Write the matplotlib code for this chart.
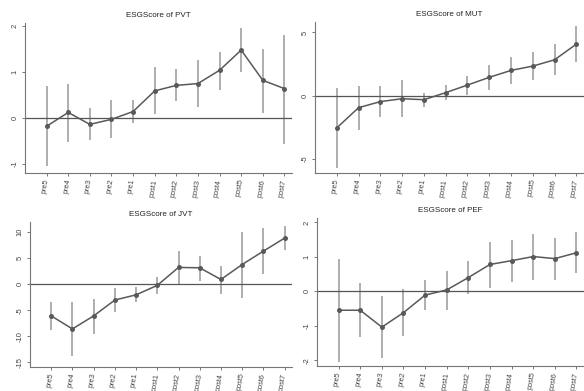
import numpy as np
import matplotlib
matplotlib.use("Agg")
import matplotlib.pyplot as plt

plt.rcParams["font.family"] = ["Liberation Sans", "DejaVu Sans"]

periods = ["pre5", "pre4", "pre3", "pre2", "pre1",
           "post1", "post2", "post3", "post4", "post5", "post6", "post7"]

pvt_coef = [-0.18, 0.12, -0.14, -0.03, 0.14, 0.59, 0.71, 0.75, 1.04, 1.48, 0.82, 0.64]
pvt_lo = [-1.04, -0.52, -0.49, -0.44, -0.12, 0.08, 0.36, 0.23, 0.62, 1.01, 0.10, -0.56]
pvt_hi = [0.70, 0.73, 0.22, 0.39, 0.39, 1.11, 1.06, 1.27, 1.44, 1.97, 1.51, 1.81]

mut_coef = [-2.55, -0.95, -0.47, -0.24, -0.32, 0.24, 0.84, 1.45, 2.00, 2.34, 2.84, 4.08]
mut_lo = [-5.74, -2.71, -1.71, -1.71, -0.87, -0.34, 0.05, 0.45, 0.89, 1.24, 1.61, 2.63]
mut_hi = [0.58, 0.76, 0.76, 1.24, 0.21, 0.82, 1.55, 2.39, 3.08, 3.45, 4.10, 5.50]

jvt_coef = [-6.1, -8.6, -6.1, -3.06, -2.06, -0.25, 3.19, 3.12, 0.88, 3.75, 6.31, 8.81]
jvt_lo = [-8.75, -13.7, -9.5, -5.3, -3.5, -1.94, 0.06, 0.56, -1.81, -2.62, 1.94, 6.44]
jvt_hi = [-3.5, -3.5, -2.8, -0.75, -0.62, 1.44, 6.3, 5.44, 3.56, 10.06, 10.7, 11.1]

pef_coef = [-0.55, -0.55, -1.04, -0.62, -0.11, 0.04, 0.40, 0.78, 0.89, 1.01, 0.95, 1.12]
pef_lo = [-2.05, -1.34, -1.95, -1.30, -0.55, -0.54, -0.08, 0.11, 0.27, 0.33, 0.33, 0.52]
pef_hi = [0.93, 0.23, -0.14, 0.06, 0.32, 0.60, 0.87, 1.43, 1.50, 1.67, 1.56, 1.71]

W, H = 584, 391
fig = plt.figure(figsize=(W / 100, H / 100), dpi=100)
fig.patch.set_facecolor("white")


def px_axes(left, top, right, bottom):
    return fig.add_axes([left / W, 1 - bottom / H, (right - left) / W, (bottom - top) / H])


def event_plot(ax, coef, lo, hi, title, ylim, yticks):
    x = np.arange(len(periods))
    coef = np.array(coef)
    ax.vlines(x, lo, hi, color="#a8a8a8", linewidth=1.3, zorder=1)
    ax.axhline(0, color="#555555", linewidth=0.9, zorder=2)
    ax.plot(x, coef, color="#595959", linewidth=1.1, marker="o",
            markersize=3.6, markerfacecolor="#595959", markeredgewidth=0, zorder=3)
    ax.set_xlim(-1, 11.35)
    ax.set_ylim(*ylim)
    ax.set_yticks(yticks)
    ax.set_yticklabels([str(t) for t in yticks], rotation=90, va="center", fontsize=5.5,
                       color="#444444")
    ax.set_xticks(x)
    ax.set_xticklabels(periods, rotation=80, ha="right", va="center",
                       rotation_mode="anchor", fontsize=5.3, color="#444444")
    for s in ["top", "right"]:
        ax.spines[s].set_visible(False)
    for s in ["left", "bottom"]:
        ax.spines[s].set_color("#777777")
        ax.spines[s].set_linewidth(0.8)
    ax.tick_params(axis="both", length=2.5, width=0.7, color="#777777", pad=2)
    ax.set_title(title, fontsize=5.8, color="#222222", pad=4)
    ax.set_facecolor("white")


ax1 = px_axes(25, 23, 292, 173)
event_plot(ax1, pvt_coef, pvt_lo, pvt_hi, "ESGScore of PVT", (-1.2, 2.07), [-1, 0, 1, 2])

ax2 = px_axes(315, 22, 584, 173)
event_plot(ax2, mut_coef, mut_lo, mut_hi, "ESGScore of MUT", (-6.12, 5.83), [-5, 0, 5])

ax3 = px_axes(30, 222, 292, 367)
event_plot(ax3, jvt_coef, jvt_lo, jvt_hi, "ESGScore of JVT", (-15.9, 11.9),
           [-15, -10, -5, 0, 5, 10])

ax4 = px_axes(317, 218, 584, 366)
event_plot(ax4, pef_coef, pef_lo, pef_hi, "ESGScore of PEF", (-2.17, 2.13), [-2, -1, 0, 1, 2])

fig.savefig("out.png", dpi=100, facecolor="white")
